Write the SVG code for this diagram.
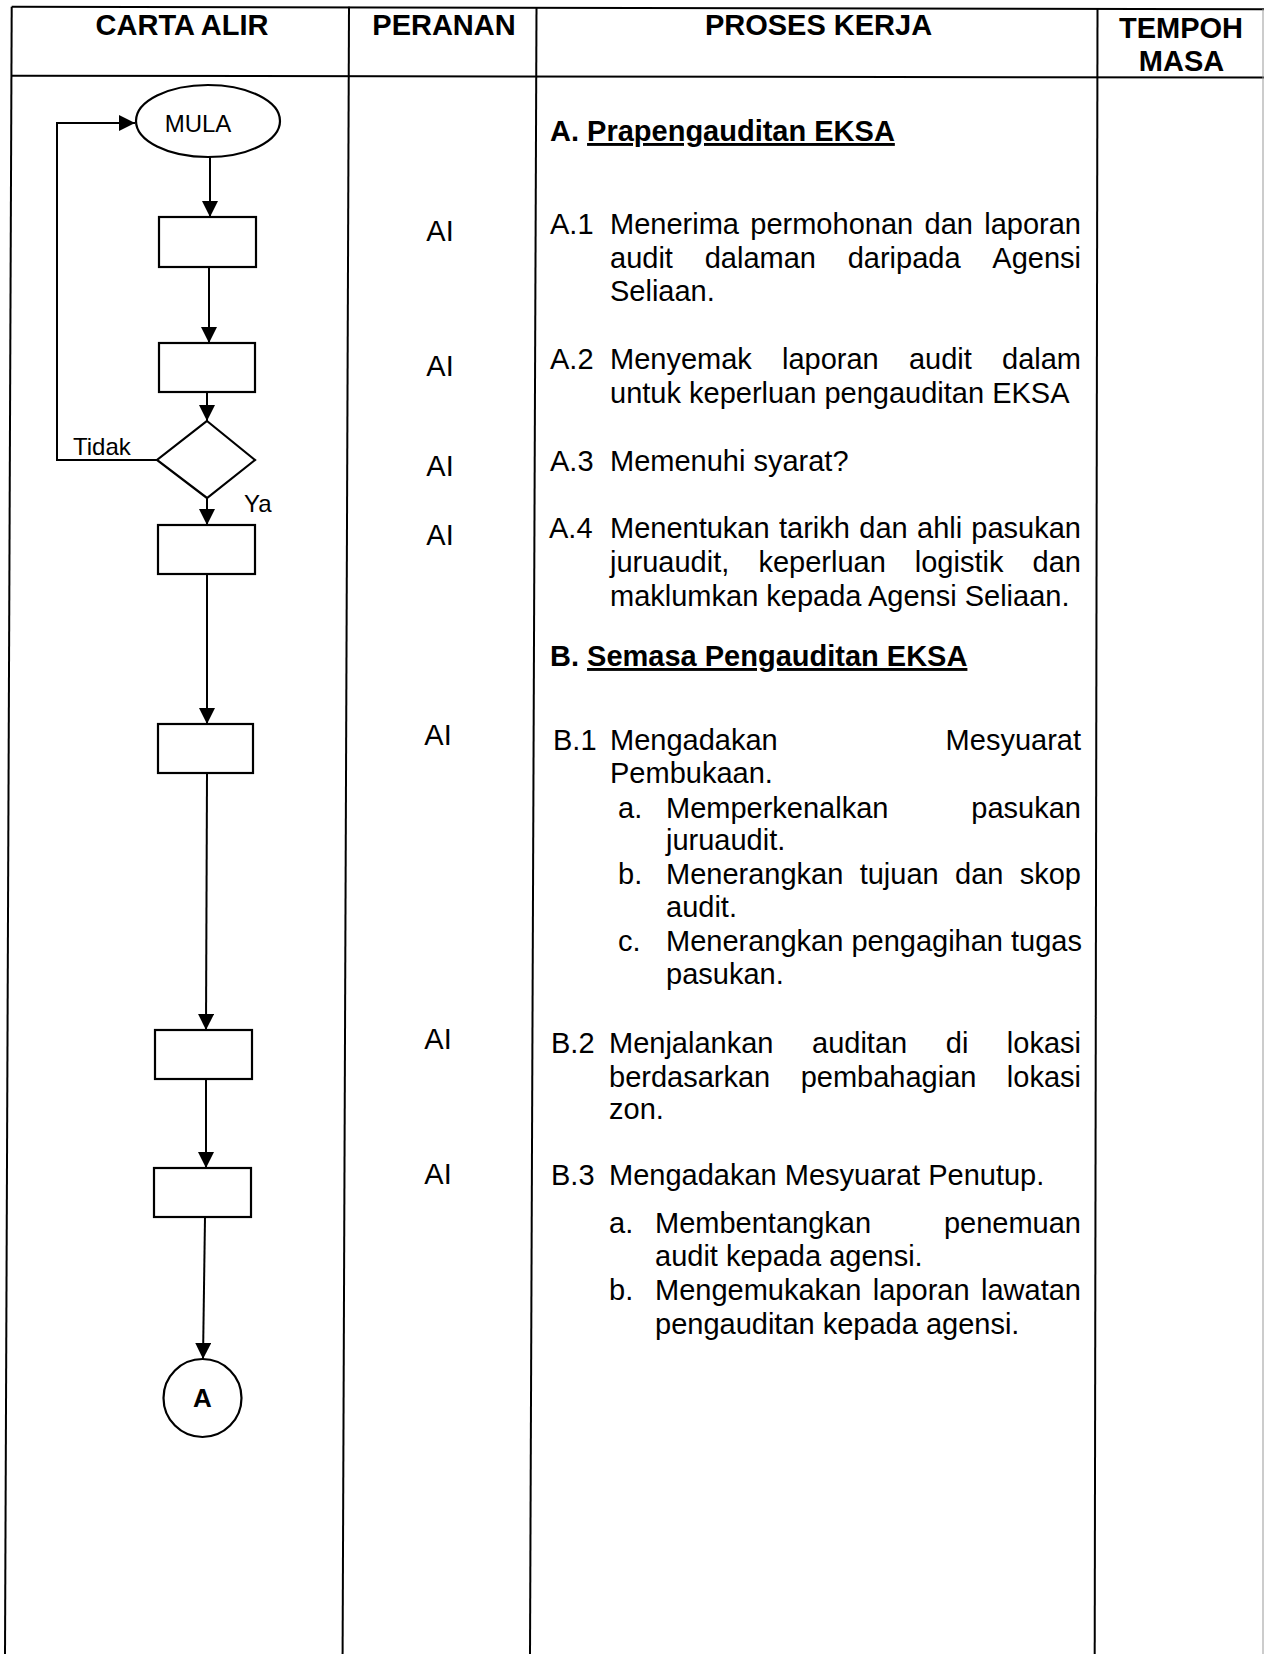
<svg xmlns="http://www.w3.org/2000/svg" width="1264" height="1654" viewBox="0 0 1264 1654">
<style>
.t{font-family:"Liberation Sans",Arial,sans-serif;font-size:29px;fill:#000}
.b{font-weight:bold}
.s{font-family:"Liberation Sans",Arial,sans-serif;font-size:24px;fill:#000}
.grid{stroke:#000;stroke-width:2;fill:none}
.shape{fill:#fff;stroke:#000;stroke-width:2.2}
.conn{stroke:#000;stroke-width:2;fill:none}
.e{text-anchor:end}
.m{text-anchor:middle}
</style>
<defs>
<marker id="arr" markerUnits="userSpaceOnUse" markerWidth="16" markerHeight="16" viewBox="0 0 16 16" refX="16" refY="8" orient="auto">
<path d="M0,0 L16,8 L0,16 z" fill="#000"/>
</marker>
</defs>
<rect width="1264" height="1654" fill="#fff"/>
<g id="table">
<line class="grid" x1="11.7" y1="6.7" x2="1264" y2="9.3"/>
<line class="grid" x1="11.7" y1="75.7" x2="1264" y2="77.5"/>
<line class="grid" x1="11.7" y1="6.7" x2="5" y2="1654"/>
<line class="grid" x1="349" y1="6.7" x2="342.6" y2="1654"/>
<line class="grid" x1="536.5" y1="7" x2="530" y2="1654"/>
<line class="grid" x1="1097.5" y1="9" x2="1094.7" y2="1654"/>
<line x1="1263" y1="9" x2="1263" y2="1654" stroke="#999" stroke-width="1"/>
</g>
<g id="headers">
<text class="t b m" x="182" y="35">CARTA ALIR</text>
<text class="t b m" x="444" y="35">PERANAN</text>
<text class="t b m" x="818.5" y="35">PROSES KERJA</text>
<text class="t b m" x="1181" y="38">TEMPOH</text>
<text class="t b m" x="1181.5" y="70.7">MASA</text>
</g>
<g id="connectors">
<path class="conn" d="M157,460 H57 V123 H135" marker-end="url(#arr)"/>
<line class="conn" x1="210" y1="157" x2="210" y2="217" marker-end="url(#arr)"/>
<line class="conn" x1="209" y1="267" x2="209" y2="343" marker-end="url(#arr)" stroke-width="2.6"/>
<line class="conn" x1="207" y1="392" x2="207" y2="421" marker-end="url(#arr)"/>
<line class="conn" x1="207" y1="498" x2="207" y2="525" marker-end="url(#arr)"/>
<line class="conn" x1="207" y1="574" x2="207" y2="724" marker-end="url(#arr)"/>
<line class="conn" x1="207" y1="773" x2="206" y2="1030" marker-end="url(#arr)"/>
<line class="conn" x1="206" y1="1079" x2="206" y2="1168" marker-end="url(#arr)"/>
<line class="conn" x1="205" y1="1217" x2="203" y2="1359" marker-end="url(#arr)" stroke-width="2.6"/>
<text class="s" x="73" y="455">Tidak</text>
<text class="s" x="244" y="511.7">Ya</text>
</g>
<g id="n-mula">
<ellipse class="shape" cx="208" cy="121" rx="72" ry="36"/>
<text class="s m" x="198" y="131.7">MULA</text>
</g>
<g id="n-a1"><rect class="shape" x="159" y="217" width="97" height="50"/></g>
<g id="n-a2"><rect class="shape" x="159" y="343" width="96" height="49"/></g>
<g id="n-a3"><polygon class="shape" points="207,421 255,460 207,498 157,460"/></g>
<g id="n-a4"><rect class="shape" x="158" y="525" width="97" height="49"/></g>
<g id="n-b1"><rect class="shape" x="158" y="724" width="95" height="49"/></g>
<g id="n-b2"><rect class="shape" x="155" y="1030" width="97" height="49"/></g>
<g id="n-b3"><rect class="shape" x="154" y="1168" width="97" height="49"/></g>
<g id="n-a">
<circle class="shape" cx="202.5" cy="1398" r="39"/>
<text class="t b m" x="202.5" y="1407" style="font-size:26px">A</text>
</g>
<g id="peranan">
<text class="t m" x="440" y="240.5">AI</text>
<text class="t m" x="440" y="375.5">AI</text>
<text class="t m" x="440" y="475.5">AI</text>
<text class="t m" x="440" y="544.5">AI</text>
<text class="t m" x="438" y="744.5">AI</text>
<text class="t m" x="438" y="1048.5">AI</text>
<text class="t m" x="438" y="1183.5">AI</text>
</g>
<g id="proses">
<text class="t b" x="550" y="141">A. <tspan text-decoration="underline">Prapengauditan EKSA</tspan></text>

<text class="t" x="550" y="234">A.1</text>
<text class="t" y="234"><tspan x="610">Menerima</tspan><tspan x="750.3">permohonan</tspan><tspan x="924.5">dan</tspan></text>
<text class="t e" x="1081" y="234">laporan</text>
<text class="t" y="268"><tspan x="610">audit</tspan><tspan x="704.7">dalaman</tspan><tspan x="847.7">daripada</tspan></text>
<text class="t e" x="1081" y="268">Agensi</text>
<text class="t" x="610" y="301">Seliaan.</text>

<text class="t" x="550" y="369">A.2</text>
<text class="t" y="369"><tspan x="610">Menyemak</tspan><tspan x="782">laporan</tspan><tspan x="908.9">audit</tspan></text>
<text class="t e" x="1081" y="369">dalam</text>
<text class="t" x="610" y="403">untuk keperluan pengauditan EKSA</text>

<text class="t" x="550" y="470.6">A.3</text>
<text class="t" x="610" y="470.6">Memenuhi syarat?</text>

<text class="t" x="549" y="538">A.4</text>
<text class="t" y="538"><tspan x="610">Menentukan</tspan><tspan x="779">tarikh</tspan><tspan x="859.3">dan</tspan><tspan x="917.1">ahli</tspan></text>
<text class="t e" x="1081" y="538">pasukan</text>
<text class="t" y="572"><tspan x="610">juruaudit,</tspan><tspan x="758.4">keperluan</tspan><tspan x="914.8">logistik</tspan></text>
<text class="t e" x="1081" y="572">dan</text>
<text class="t" x="610" y="605.6">maklumkan kepada Agensi Seliaan.</text>

<text class="t b" x="550" y="666">B. <tspan text-decoration="underline">Semasa Pengauditan EKSA</tspan></text>

<text class="t" x="553" y="750">B.1</text>
<text class="t" x="610" y="750">Mengadakan</text>
<text class="t e" x="1081" y="750">Mesyuarat</text>
<text class="t" x="610" y="783">Pembukaan.</text>
<text class="t" x="618" y="818">a.</text>
<text class="t" x="666" y="818">Memperkenalkan</text>
<text class="t e" x="1081" y="818">pasukan</text>
<text class="t" x="666" y="850">juruaudit.</text>
<text class="t" x="618" y="884">b.</text>
<text class="t" y="884"><tspan x="666">Menerangkan</tspan><tspan x="859.7">tujuan</tspan><tspan x="955.1">dan</tspan></text>
<text class="t e" x="1081" y="884">skop</text>
<text class="t" x="666" y="917">audit.</text>
<text class="t" x="618" y="951">c.</text>
<text class="t" x="666" y="951">Menerangkan pengagihan tugas</text>
<text class="t" x="666" y="984">pasukan.</text>

<text class="t" x="551" y="1053">B.2</text>
<text class="t" y="1053"><tspan x="609">Menjalankan</tspan><tspan x="812">auditan</tspan><tspan x="945.8">di</tspan></text>
<text class="t e" x="1081" y="1053">lokasi</text>
<text class="t" y="1087"><tspan x="609">berdasarkan</tspan><tspan x="800.7">pembahagian</tspan></text>
<text class="t e" x="1081" y="1087">lokasi</text>
<text class="t" x="609" y="1119">zon.</text>

<text class="t" x="551" y="1185">B.3</text>
<text class="t" x="609" y="1185">Mengadakan Mesyuarat Penutup.</text>
<text class="t" x="609" y="1233">a.</text>
<text class="t" x="655" y="1233">Membentangkan</text>
<text class="t e" x="1081" y="1233">penemuan</text>
<text class="t" x="655" y="1266">audit kepada agensi.</text>
<text class="t" x="609" y="1300">b.</text>
<text class="t" y="1300"><tspan x="655">Mengemukakan</tspan><tspan x="872.8">laporan</tspan></text>
<text class="t e" x="1081" y="1300">lawatan</text>
<text class="t" x="655" y="1334">pengauditan kepada agensi.</text>
</g>
</svg>
